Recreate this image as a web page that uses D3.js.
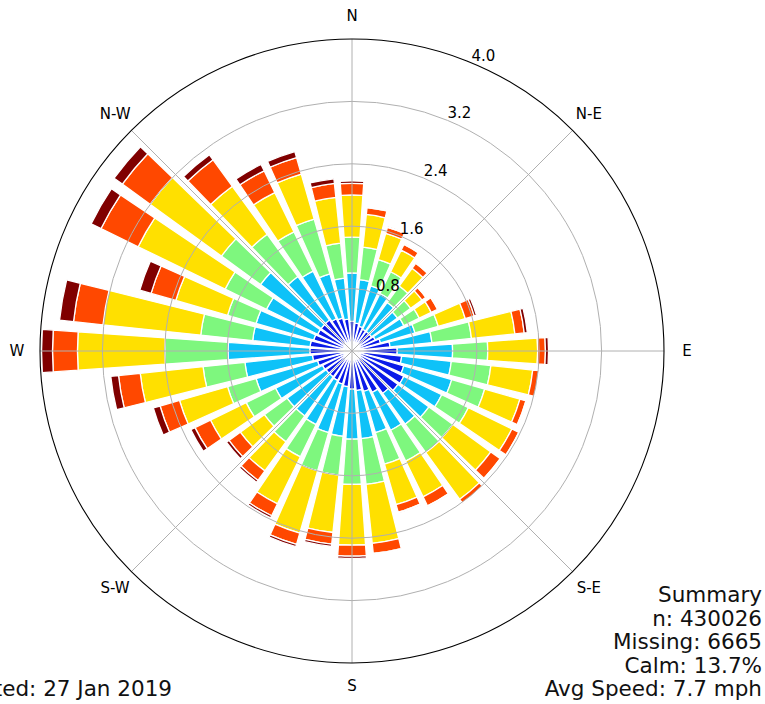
<!DOCTYPE html>
<html>
<head>
<meta charset="utf-8">
<script src="https://cdn.jsdelivr.net/npm/d3@7"></script>
<style>
  body { margin: 0; background: #fff; }
  svg { display: block; font-family: "DejaVu Sans", sans-serif; }
</style>
</head>
<body>
<div id="rose"></div>
<script>
const W = 765, H = 704;
const cx = 352, cy = 351, outerR = 312;

// wind directions (degrees, clockwise from north)
const directions = [0, 10, 20, 30, 40, 50, 60, 70, 80, 90, 100, 110, 120, 130, 140, 150, 160, 170,
  180, 190, 200, 210, 220, 230, 240, 250, 260, 270, 280, 290, 300, 310, 320, 330, 340, 350];

const speedBins = ["bin1", "bin2", "bin3", "bin4", "bin5", "bin6"];
const binColors = ["#0a1ae8", "#0ec2f8", "#7ef77e", "#ffe000", "#ff4800", "#800000"];

// frequency (%) per direction for each speed bin
const bin1 = [0.38, 0.36, 0.33, 0.31, 0.31, 0.31, 0.33, 0.38, 0.49, 0.58, 0.64, 0.69, 0.74, 0.73, 0.67, 0.59, 0.54, 0.51,
  0.49, 0.46, 0.44, 0.42, 0.41, 0.41, 0.42, 0.46, 0.51, 0.54, 0.54, 0.51, 0.49, 0.49, 0.49, 0.46, 0.44, 0.41];
const bin2 = [0.62, 0.56, 0.54, 0.51, 0.46, 0.41, 0.41, 0.46, 0.54, 0.71, 0.64, 0.64, 0.54, 0.49, 0.49, 0.54, 0.55, 0.62,
  0.64, 0.64, 0.65, 0.63, 0.62, 0.62, 0.67, 0.82, 0.87, 1.05, 0.74, 0.77, 0.73, 0.96, 0.69, 0.68, 0.59, 0.53];
const bin3 = [0.46, 0.42, 0.35, 0.31, 0.26, 0.21, 0.22, 0.31, 0.51, 0.45, 0.51, 0.44, 0.38, 0.38, 0.45, 0.44, 0.42, 0.59,
  0.58, 0.50, 0.51, 0.46, 0.41, 0.36, 0.42, 0.38, 0.54, 0.81, 0.67, 0.38, 0.59, 0.62, 0.67, 0.56, 0.73, 0.45];
const bin4 = [0.54, 0.42, 0.35, 0.31, 0.28, 0.18, 0.17, 0.36, 0.56, 0.64, 0.54, 0.47, 0.62, 0.60, 0.74, 0.51, 0.54, 0.76,
  0.78, 0.74, 0.83, 0.67, 0.46, 0.38, 0.51, 0.64, 0.81, 1.12, 1.26, 0.69, 1.24, 1.13, 0.76, 0.56, 0.60, 0.59];
const bin5 = [0.15, 0.09, 0.08, 0.08, 0.08, 0.06, 0.09, 0.12, 0.12, 0.10, 0.08, 0.08, 0.10, 0.15, 0.06, 0.13, 0.10, 0.13,
  0.14, 0.15, 0.15, 0.17, 0.15, 0.18, 0.22, 0.26, 0.28, 0.32, 0.38, 0.33, 0.53, 0.44, 0.42, 0.31, 0.22, 0.18];
const bin6 = [0.03, 0.01, 0.01, 0.01, 0.01, 0.01, 0.01, 0.03, 0.04, 0.04, 0.01, 0.01, 0.01, 0.01, 0.01, 0.01, 0.01, 0.01,
  0.03, 0.03, 0.03, 0.03, 0.03, 0.04, 0.06, 0.09, 0.10, 0.14, 0.18, 0.15, 0.14, 0.13, 0.08, 0.09, 0.08, 0.06];

const radialTicks = [0.8, 1.6, 2.4, 3.2, 4.0];
const compassLabels = ["N", "N-E", "E", "S-E", "S", "S-W", "W", "N-W"];
const summaryLines = ["Summary", "n: 430026", "Missing: 6665", "Calm: 13.7%", "Avg Speed: 7.7 mph"];
const footerText = "Generated: 27 Jan 2019";

const svg = d3.select("#rose")
  .append("svg")
    .attr("width", W)
    .attr("height", H);

const g = svg.append("g")
  .attr("transform", `translate(${cx}, ${cy})`);

const r = d3.scaleLinear()
  .domain([0, 4.0])
  .range([0, outerR]);

// build table and stack it
const table = directions.map((dir, i) => ({
  dir: dir,
  bin1: bin1[i], bin2: bin2[i], bin3: bin3[i],
  bin4: bin4[i], bin5: bin5[i], bin6: bin6[i]
}));
const series = d3.stack().keys(speedBins)(table);

const color = d3.scaleOrdinal().domain(speedBins).range(binColors);
const halfOpen = 4 * Math.PI / 180;
const rad = d => d * Math.PI / 180;

const arc = d3.arc()
  .innerRadius(d => r(d[0]))
  .outerRadius(d => r(d[1]))
  .startAngle(d => rad(d.data.dir) - halfOpen)
  .endAngle(d => rad(d.data.dir) + halfOpen);

// bars
g.selectAll("g.bin")
  .data(series)
  .join("g")
    .attr("class", "bin")
    .attr("fill", d => color(d.key))
  .selectAll("path")
  .data(d => d)
  .join("path")
    .attr("d", arc)
    .attr("stroke", "#fff")
    .attr("stroke-width", 1.3);

// the wedges merge into white edges near the middle
g.append("circle")
  .attr("r", 6)
  .attr("fill", "#fff");

// grid on top of bars
g.selectAll("circle.grid")
  .data(radialTicks.slice(0, -1))
  .join("circle")
    .attr("class", "grid")
    .attr("r", d => r(d))
    .attr("fill", "none")
    .attr("stroke", "#b0b0b0")
    .attr("stroke-width", 1);

const spokeAngles = d3.range(8).map(i => i * 45);
g.selectAll("line.spoke")
  .data(spokeAngles)
  .join("line")
    .attr("class", "spoke")
    .attr("x1", 0).attr("y1", 0)
    .attr("x2", d => r(4.0) * Math.sin(rad(d)))
    .attr("y2", d => -r(4.0) * Math.cos(rad(d)))
    .attr("stroke", "#b0b0b0")
    .attr("stroke-width", 1);

g.append("circle")
  .attr("r", r(4.0))
  .attr("fill", "none")
  .attr("stroke", "#000")
  .attr("stroke-width", 1.1);

// radial tick labels at 22.5 deg
const labelAng = rad(22.5);
g.selectAll("text.rtick")
  .data(radialTicks)
  .join("text")
    .attr("class", "rtick")
    .attr("x", d => r(d) * Math.sin(labelAng))
    .attr("y", d => -r(d) * Math.cos(labelAng) - 2)
    .attr("font-size", "15px")
    .attr("fill", "#000")
    .text(d => d.toFixed(1));

// compass labels
const labelR = 335;
g.selectAll("text.compass")
  .data(compassLabels)
  .join("text")
    .attr("class", "compass")
    .attr("x", (d, i) => labelR * Math.sin(rad(i * 45)))
    .attr("y", (d, i) => -labelR * Math.cos(rad(i * 45)))
    .attr("text-anchor", "middle")
    .attr("dominant-baseline", "central")
    .attr("font-size", "15px")
    .attr("fill", "#000")
    .text(d => d);

// summary box
svg.append("g")
  .selectAll("text")
  .data(summaryLines)
  .join("text")
    .attr("x", 762)
    .attr("y", (d, i) => 602 + i * 23.5)
    .attr("text-anchor", "end")
    .attr("font-size", "21.5px")
    .attr("fill", "#111")
    .text(d => d);

svg.append("text")
  .attr("x", -85)
  .attr("y", 696)
  .attr("font-size", "21.5px")
  .attr("fill", "#111")
  .text(footerText);
</script>
</body>
</html>
